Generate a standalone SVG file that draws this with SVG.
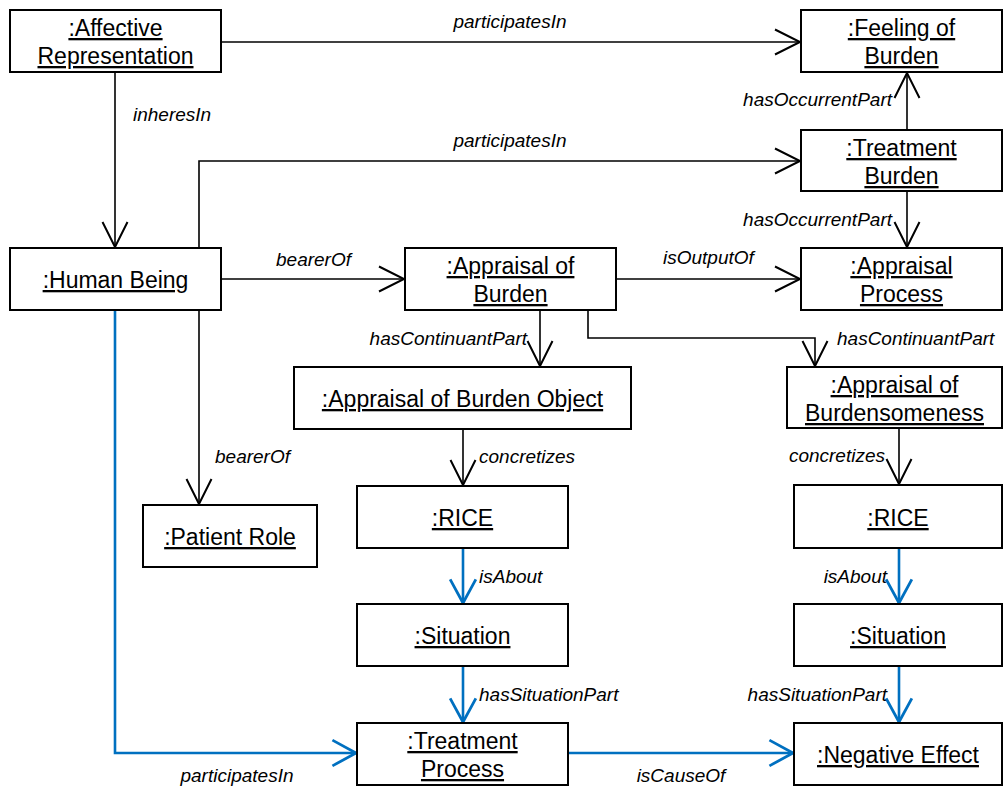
<svg xmlns="http://www.w3.org/2000/svg" width="1003" height="787" viewBox="0 0 1003 787">
<style>
.node rect{fill:#fff;stroke:#000;stroke-width:2}
.node text{font-family:"Liberation Sans",Arial,sans-serif;font-size:23px;text-anchor:middle;text-decoration:underline;fill:#000}
.lbl{font-family:"Liberation Sans",Arial,sans-serif;font-size:19px;font-style:italic;fill:#000}
.k{fill:none;stroke:#000;stroke-width:1.6}
.b{fill:none;stroke:#0070C0;stroke-width:2.6}
</style>
<defs>
<marker id="ak" markerUnits="userSpaceOnUse" markerWidth="30" markerHeight="30" viewBox="-22 -12 24 24" refX="0" refY="0" orient="auto"><path d="M-20,-10 L0,0 L-20,10" fill="none" stroke="#000" stroke-width="1.6"/></marker>
<marker id="ab" markerUnits="userSpaceOnUse" markerWidth="30" markerHeight="30" viewBox="-24 -14 26 28" refX="0" refY="0" orient="auto"><path d="M-22,-12 L0,0 L-22,12" fill="none" stroke="#0070C0" stroke-width="2.6"/></marker>
</defs>
<g id="connectors">
<path class="k" d="M221,42 H800" marker-end="url(#ak)"/>
<path class="k" d="M115,72 V247" marker-end="url(#ak)"/>
<path class="k" d="M199,248 V161 H800" marker-end="url(#ak)"/>
<path class="k" d="M907,130 V73" marker-end="url(#ak)"/>
<path class="k" d="M907,191 V247" marker-end="url(#ak)"/>
<path class="k" d="M221,279 H404" marker-end="url(#ak)"/>
<path class="k" d="M616,279 H800" marker-end="url(#ak)"/>
<path class="k" d="M540,310 V366" marker-end="url(#ak)"/>
<path class="k" d="M588,310 V338 H815 V366" marker-end="url(#ak)"/>
<path class="k" d="M199,310 V504" marker-end="url(#ak)"/>
<path class="k" d="M463,429 V485" marker-end="url(#ak)"/>
<path class="k" d="M899,428 V484" marker-end="url(#ak)"/>
<path class="b" d="M463,548 V603" marker-end="url(#ab)"/>
<path class="b" d="M899,548 V603" marker-end="url(#ab)"/>
<path class="b" d="M463,666 V722" marker-end="url(#ab)"/>
<path class="b" d="M899,666 V722" marker-end="url(#ab)"/>
<path class="b" d="M115,310 V753 H356" marker-end="url(#ab)"/>
<path class="b" d="M568,753 H793" marker-end="url(#ab)"/>
<text class="lbl" x="510" y="28" text-anchor="middle">participatesIn</text>
<text class="lbl" x="133" y="121">inheresIn</text>
<text class="lbl" x="510" y="147" text-anchor="middle">participatesIn</text>
<text class="lbl" x="892" y="106" text-anchor="end">hasOccurrentPart</text>
<text class="lbl" x="892" y="226" text-anchor="end">hasOccurrentPart</text>
<text class="lbl" x="276" y="266">bearerOf</text>
<text class="lbl" x="663" y="264">isOutputOf</text>
<text class="lbl" x="527" y="345" text-anchor="end">hasContinuantPart</text>
<text class="lbl" x="837" y="345">hasContinuantPart</text>
<text class="lbl" x="215" y="463">bearerOf</text>
<text class="lbl" x="479" y="463">concretizes</text>
<text class="lbl" x="885" y="462" text-anchor="end">concretizes</text>
<text class="lbl" x="479" y="583">isAbout</text>
<text class="lbl" x="887" y="583" text-anchor="end">isAbout</text>
<text class="lbl" x="479" y="701">hasSituationPart</text>
<text class="lbl" x="887" y="701" text-anchor="end">hasSituationPart</text>
<text class="lbl" x="237" y="782" text-anchor="middle">participatesIn</text>
<text class="lbl" x="681" y="782" text-anchor="middle">isCauseOf</text>
</g>
<g id="affective" class="node"><rect x="10" y="10" width="211" height="62"/><text x="115.5" y="36">:Affective</text><text x="115.5" y="64">Representation</text></g>
<g id="feeling" class="node"><rect x="801" y="10" width="201" height="62"/><text x="901.5" y="36">:Feeling of</text><text x="901.5" y="64">Burden</text></g>
<g id="treatmentBurden" class="node"><rect x="801" y="130" width="201" height="61"/><text x="901.5" y="156">:Treatment</text><text x="901.5" y="184">Burden</text></g>
<g id="human" class="node"><rect x="10" y="248" width="211" height="62"/><text x="115.5" y="288">:Human Being</text></g>
<g id="appraisalBurden" class="node"><rect x="405" y="248" width="211" height="62"/><text x="510.5" y="274">:Appraisal of</text><text x="510.5" y="302">Burden</text></g>
<g id="appraisalProcess" class="node"><rect x="801" y="248" width="201" height="62"/><text x="901.5" y="274">:Appraisal</text><text x="901.5" y="302">Process</text></g>
<g id="aobObject" class="node"><rect x="294" y="367" width="337" height="62"/><text x="462.5" y="407">:Appraisal of Burden Object</text></g>
<g id="burdensomeness" class="node"><rect x="787" y="367" width="215" height="61"/><text x="894.5" y="393">:Appraisal of</text><text x="894.5" y="421">Burdensomeness</text></g>
<g id="patientRole" class="node"><rect x="143" y="505" width="174" height="62"/><text x="230" y="545">:Patient Role</text></g>
<g id="rice1" class="node"><rect x="357" y="486" width="211" height="62"/><text x="462.5" y="526">:RICE</text></g>
<g id="rice2" class="node"><rect x="794" y="485" width="208" height="63"/><text x="898" y="526">:RICE</text></g>
<g id="situation1" class="node"><rect x="357" y="604" width="211" height="62"/><text x="462.5" y="644">:Situation</text></g>
<g id="situation2" class="node"><rect x="794" y="604" width="208" height="62"/><text x="898" y="644">:Situation</text></g>
<g id="treatmentProcess" class="node"><rect x="357" y="723" width="211" height="62"/><text x="462.5" y="749">:Treatment</text><text x="462.5" y="777">Process</text></g>
<g id="negativeEffect" class="node"><rect x="794" y="723" width="208" height="62"/><text x="898" y="763">:Negative Effect</text></g>
</svg>
